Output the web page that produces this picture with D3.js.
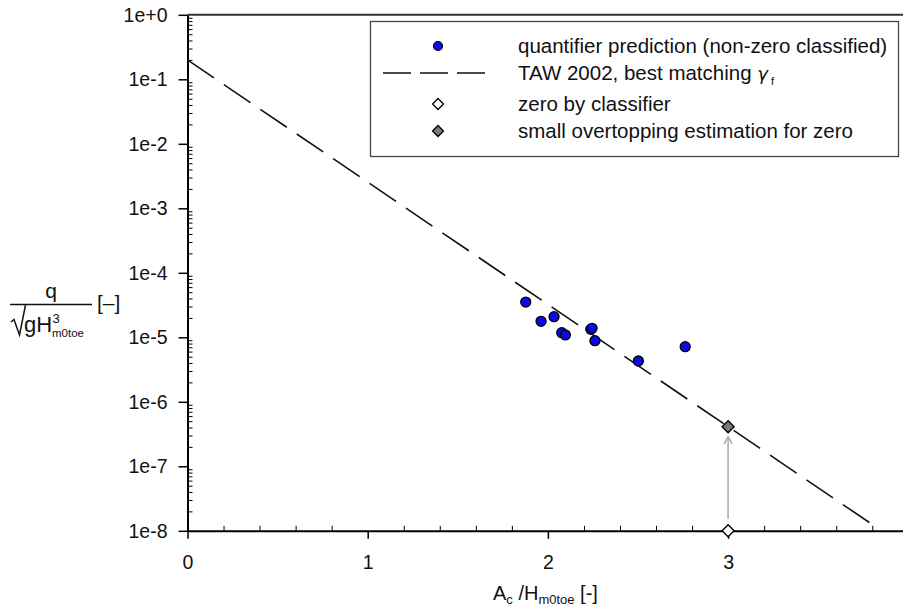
<!DOCTYPE html>
<html>
<head>
<meta charset="utf-8">
<script src="https://cdn.jsdelivr.net/npm/d3@7"></script>
<style>
  html, body { margin: 0; padding: 0; background: #fff; overflow: hidden; }
  svg { display: block; font-family: "Liberation Sans", Arial, Helvetica, sans-serif; }
</style>
</head>
<body>
<svg id="chart" width="903" height="608"></svg>
<script>
// ---- data ----
const predX = [1.877, 1.962, 2.034, 2.077, 2.097, 2.238, 2.245, 2.261, 2.502, 2.762];
const predQ = [3.52e-5, 1.77e-5, 2.09e-5, 1.18e-5, 1.09e-5, 1.33e-5, 1.38e-5, 8.85e-6, 4.29e-6, 7.15e-6];
const tawX = [0, 3.797];
const tawQ = [0.2, 1.27e-8];
const zeroX = [3.0];
const zeroQ = [1e-8];
const estX = [3.0];
const estQ = [4.1e-7];
const xTicks = [0, 1, 2, 3, 4];
const xTickLabels = ["0", "1", "2", "3", "4"];
const yTicks = [1, 1e-1, 1e-2, 1e-3, 1e-4, 1e-5, 1e-6, 1e-7, 1e-8];
const yTickLabels = ["1e+0", "1e-1", "1e-2", "1e-3", "1e-4", "1e-5", "1e-6", "1e-7", "1e-8"];
const legendLabels = [
  "quantifier prediction (non-zero classified)",
  "TAW 2002, best matching ",
  "zero by classifier",
  "small overtopping estimation for zero"
];

// ---- layout ----
const svg = d3.select("#chart");
const x = d3.scaleLinear().domain([0, 4]).range([187.5, 908.3]);
const y = d3.scaleLog().domain([1e-8, 1]).range([530.8, 14.8]);
const X0 = x(0), YB = y(1e-8), YT = y(1);

// top frame line
svg.append("line").attr("x1", X0).attr("x2", 903).attr("y1", YT).attr("y2", YT)
  .attr("stroke", "#333").attr("stroke-width", 2);

// y axis majors
const yAxis = d3.axisLeft(y).tickValues(yTicks)
  .tickFormat((d, i) => yTickLabels[i]).tickSize(9).tickPadding(11).tickSizeOuter(0);
const gy = svg.append("g").attr("transform", `translate(${X0},0)`).call(yAxis);
gy.select(".domain").attr("stroke", "#000").attr("stroke-width", 2);
gy.selectAll(".tick line").attr("stroke", "#000").attr("stroke-width", 1.5);
gy.selectAll(".tick text").attr("font-size", 19.5).attr("fill", "#111")
  .attr("font-family", "Liberation Sans, Arial, sans-serif");

// y minor ticks (inside)
const yMinor = [];
for (let e = -8; e < 0; e++) for (let m = 2; m <= 9; m++) yMinor.push(m * Math.pow(10, e));
const gym = svg.append("g").attr("transform", `translate(${X0},0)`)
  .call(d3.axisRight(y).tickValues(yMinor).tickFormat("").tickSize(5).tickSizeOuter(0));
gym.select(".domain").remove();
gym.selectAll(".tick line").attr("stroke", "#000").attr("stroke-width", 1);

// x axis majors
const xAxis = d3.axisBottom(x).tickValues(xTicks)
  .tickFormat((d, i) => xTickLabels[i]).tickSize(8).tickPadding(16).tickSizeOuter(0);
const gx = svg.append("g").attr("transform", `translate(0,${YB})`).call(xAxis);
gx.select(".domain").attr("stroke", "#000").attr("stroke-width", 2);
gx.selectAll(".tick line").attr("stroke", "#000").attr("stroke-width", 1.5);
gx.selectAll(".tick text").attr("font-size", 19.5).attr("fill", "#111")
  .attr("font-family", "Liberation Sans, Arial, sans-serif");

// x minor ticks (inside)
const xMinor = d3.range(1, 20).map(i => i * 0.2).filter(v => Math.abs(v - Math.round(v)) > 1e-6);
const gxm = svg.append("g").attr("transform", `translate(0,${YB})`)
  .call(d3.axisTop(x).tickValues(xMinor).tickFormat("").tickSize(5).tickSizeOuter(0));
gxm.select(".domain").remove();
gxm.selectAll(".tick line").attr("stroke", "#000").attr("stroke-width", 1);

// TAW dashed line
const line = d3.line().x(d => x(d[0])).y(d => y(d[1]));
svg.append("path").datum(tawX.map((v, i) => [v, tawQ[i]]))
  .attr("d", line).attr("fill", "none").attr("stroke", "#111")
  .attr("stroke-width", 1.6).attr("stroke-dasharray", "32,12");

// arrow from zero to estimate
const ax = x(estX[0]);
const ay1 = y(zeroQ[0]) - 12, ay2 = y(estQ[0]) + 10;
svg.append("line").attr("x1", ax).attr("x2", ax).attr("y1", ay1).attr("y2", ay2)
  .attr("stroke", "#aaa").attr("stroke-width", 1.5);
svg.append("path")
  .attr("d", `M${ax - 4},${ay2 + 7} L${ax},${ay2} L${ax + 4},${ay2 + 7}`)
  .attr("fill", "none").attr("stroke", "#aaa").attr("stroke-width", 1.5);

// diamonds
const diamond = (cx, cy, r) => `M${cx},${cy - r} L${cx + r},${cy} L${cx},${cy + r} L${cx - r},${cy} Z`;
svg.selectAll(".zero").data(zeroX).enter().append("path")
  .attr("d", (d, i) => diamond(x(d), y(zeroQ[i]), 6))
  .attr("fill", "#fff").attr("stroke", "#000").attr("stroke-width", 1.4);
svg.selectAll(".est").data(estX).enter().append("path")
  .attr("d", (d, i) => diamond(x(d), y(estQ[i]), 6))
  .attr("fill", "#7a7a7a").attr("stroke", "#000").attr("stroke-width", 1.4);

// prediction circles
svg.selectAll(".pred").data(predX).enter().append("circle")
  .attr("cx", d => x(d)).attr("cy", (d, i) => y(predQ[i])).attr("r", 5)
  .attr("fill", "#0a0ae6").attr("stroke", "#000").attr("stroke-width", 1.3);

// legend
const lg = svg.append("g");
lg.append("rect").attr("x", 370.5).attr("y", 21.5).attr("width", 528).attr("height", 135)
  .attr("fill", "#fff").attr("stroke", "#444").attr("stroke-width", 1.3);
const rowsY = [46, 73, 104, 131];
const symX = 438, textX = 518;
lg.append("circle").attr("cx", symX).attr("cy", rowsY[0]).attr("r", 4.5)
  .attr("fill", "#0a0ae6").attr("stroke", "#000").attr("stroke-width", 1.2);
lg.append("line").attr("x1", 383).attr("x2", 485).attr("y1", rowsY[1]).attr("y2", rowsY[1])
  .attr("stroke", "#111").attr("stroke-width", 1.6).attr("stroke-dasharray", "28,9");
lg.append("path").attr("d", diamond(symX, rowsY[2], 5.5))
  .attr("fill", "#fff").attr("stroke", "#000").attr("stroke-width", 1.3);
lg.append("path").attr("d", diamond(symX, rowsY[3], 5.5))
  .attr("fill", "#7a7a7a").attr("stroke", "#000").attr("stroke-width", 1.3);
legendLabels.forEach((t, i) => {
  const tx = lg.append("text").attr("x", textX).attr("y", rowsY[i] + 7)
    .attr("font-size", 20.5).attr("fill", "#111").text(t);
  if (i === 1) {
    tx.append("tspan").attr("font-family", "DejaVu Sans, sans-serif").attr("font-style", "italic")
      .attr("font-size", 18).text("γ");
    tx.append("tspan").attr("font-size", 11).attr("dy", 5).attr("dx", 3).text("f");
  }
});

// y axis label (fraction)
const yl = svg.append("g").attr("fill", "#111");
yl.append("text").attr("x", 51).attr("y", 298).attr("text-anchor", "middle")
  .attr("font-size", 21).text("q");
yl.append("line").attr("x1", 10).attr("x2", 92).attr("y1", 304.5).attr("y2", 304.5)
  .attr("stroke", "#111").attr("stroke-width", 1.5);
yl.append("path").attr("d", "M11,322 L14,319.5 L19.5,335 L25.5,305")
  .attr("fill", "none").attr("stroke", "#111").attr("stroke-width", 1.5);
yl.append("text").attr("x", 24).attr("y", 332).attr("font-size", 22).text("gH");
yl.append("text").attr("x", 52.5).attr("y", 323).attr("font-size", 13).text("3");
yl.append("text").attr("x", 52).attr("y", 337).attr("font-size", 11.5).text("m0toe");
yl.append("text").attr("x", 97).attr("y", 310).attr("font-size", 21).text("[–]");

// x axis label
const xl = svg.append("text").attr("x", 493).attr("y", 600).attr("font-size", 20).attr("fill", "#111");
xl.append("tspan").text("A");
xl.append("tspan").attr("font-size", 13).attr("dy", 4).text("c");
xl.append("tspan").attr("dy", -4).text(" /H");
xl.append("tspan").attr("font-size", 13).attr("dy", 4).text("m0toe");
xl.append("tspan").attr("dy", -4).text(" [-]");
</script>
</body>
</html>
